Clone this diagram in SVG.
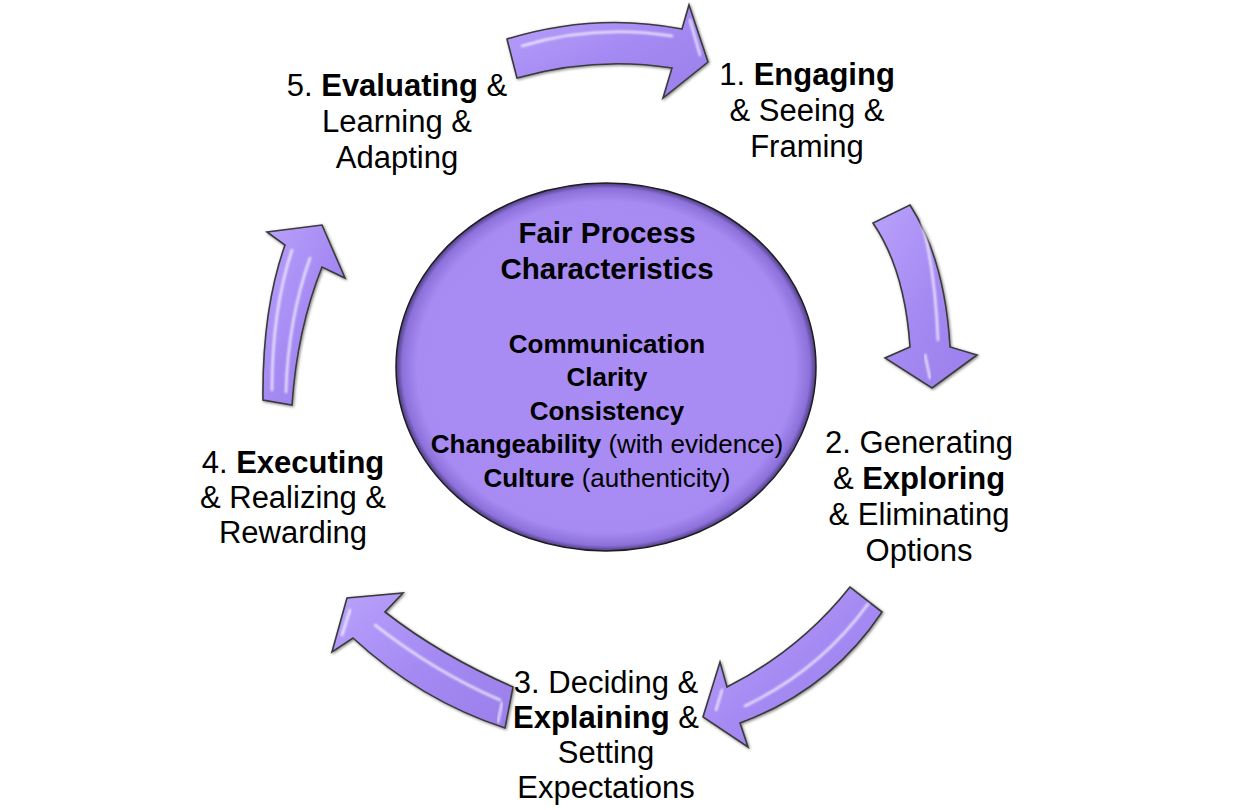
<svg xmlns="http://www.w3.org/2000/svg" width="1235" height="810" viewBox="0 0 1235 810">
<defs>
<radialGradient id="circGrad" cx="0.5" cy="0.5" r="0.5">
<stop offset="0" stop-color="#a98cf4"/>
<stop offset="0.9" stop-color="#a78af2"/>
<stop offset="0.97" stop-color="#8d71da"/>
<stop offset="1" stop-color="#4d3c80"/>
</radialGradient>
<linearGradient id="arrGrad" x1="0" y1="0" x2="1" y2="1">
<stop offset="0" stop-color="#b9a2fb"/>
<stop offset="0.5" stop-color="#a68af3"/>
<stop offset="1" stop-color="#9a7eea"/>
</linearGradient>
<filter id="blur1" x="-20%" y="-20%" width="140%" height="140%">
<feGaussianBlur stdDeviation="1.2"/>
</filter>
<filter id="shadow" x="-10%" y="-10%" width="130%" height="130%">
<feGaussianBlur in="SourceAlpha" stdDeviation="1.5"/>
<feOffset dx="1" dy="1" result="b"/>
<feComponentTransfer><feFuncA type="linear" slope="0.5"/></feComponentTransfer>
<feMerge><feMergeNode/><feMergeNode in="SourceGraphic"/></feMerge>
</filter>
</defs>
<style>
.arrow{fill:url(#arrGrad);stroke:#3a3a3a;stroke-width:1.6;stroke-linejoin:miter;filter:url(#shadow)}
.hl{fill:none;stroke:#ffffff;stroke-width:2.5;stroke-linecap:round;opacity:0.75;filter:url(#blur1)}
.lbl{font-family:"Liberation Sans",Arial,sans-serif;font-size:31px;fill:#000;text-anchor:middle}
.ctr{font-family:"Liberation Sans",Arial,sans-serif;font-size:26px;fill:#000;text-anchor:middle}
.ttl{font-family:"Liberation Sans",Arial,sans-serif;font-size:29.5px;font-weight:bold;fill:#000;text-anchor:middle}
.b{font-weight:bold}
</style>
<rect width="1235" height="810" fill="#ffffff"/>

<g id="center">
<ellipse cx="606" cy="367" rx="210" ry="184" fill="url(#circGrad)" stroke="#1e1e1e" stroke-width="1.5"/>
<text class="ttl" x="607" y="243">Fair Process</text>
<text class="ttl" x="607" y="279">Characteristics</text>
<text class="ctr b" x="607" y="353">Communication</text>
<text class="ctr b" x="607" y="386">Clarity</text>
<text class="ctr b" x="607" y="420">Consistency</text>
<text class="ctr" x="607" y="453"><tspan class="b">Changeability</tspan> (with evidence)</text>
<text class="ctr" x="607" y="487"><tspan class="b">Culture</tspan> (authenticity)</text>
</g>

<g id="connectors">
<g id="arrow-5-1">
<path class="arrow" d="M507,39 Q595,12 682,29 L689,5 L708,62 L663,98 L672,68 Q595,56 517,78 Z"/>
<path class="hl" d="M522,46 Q595,24 672,36"/>
<path class="hl" d="M690,20 L700,55"/>
</g>
<g id="arrow-1-2">
<path class="arrow" d="M873,223 Q905,270 910,347 L885,358 L932,388 L977,355 L950,347 Q945,260 910,205 Z"/>
<path class="hl" d="M922,222 Q935,270 938,340"/>
<path class="hl" d="M925,355 L930,378"/>
</g>
<g id="arrow-2-3">
<path class="arrow" d="M850,587 Q800,650 727,687 L720,662 L703,717 L748,747 L740,723 Q830,690 882,612 Z"/>
<path class="hl" d="M868,604 Q820,670 745,706"/>
<path class="hl" d="M716,710 L722,690"/>
</g>
<g id="arrow-3-4">
<path class="arrow" d="M513,687 Q440,655 385,612 L403,593 L347,598 L332,652 L353,638 Q420,700 505,728 Z"/>
<path class="hl" d="M500,700 Q435,672 375,625"/>
<path class="hl" d="M350,610 L342,635"/>
<path class="hl" d="M502,703 L498,722"/>
</g>
<g id="arrow-4-5">
<path class="arrow" d="M263,400 Q262,310 285,245 L267,232 L322,225 L345,278 L322,267 Q297,330 292,405 Z"/>
<path class="hl" d="M272,390 Q272,310 292,250"/>
<path class="hl" d="M286,392 Q288,320 310,258"/>
</g>
</g>

<g id="node1">
<text class="lbl" x="807" y="85">1. <tspan class="b">Engaging</tspan></text>
<text class="lbl" x="807" y="121">&amp; Seeing &amp;</text>
<text class="lbl" x="807" y="157">Framing</text>
</g>
<g id="node2">
<text class="lbl" x="919" y="453">2. Generating</text>
<text class="lbl" x="919" y="489">&amp; <tspan class="b">Exploring</tspan></text>
<text class="lbl" x="919" y="525">&amp; Eliminating</text>
<text class="lbl" x="919" y="561">Options</text>
</g>
<g id="node3">
<text class="lbl" x="606" y="693">3. Deciding &amp;</text>
<text class="lbl" x="606" y="728"><tspan class="b">Explaining</tspan> &amp;</text>
<text class="lbl" x="606" y="763">Setting</text>
<text class="lbl" x="606" y="798">Expectations</text>
</g>
<g id="node4">
<text class="lbl" x="293" y="473">4. <tspan class="b">Executing</tspan></text>
<text class="lbl" x="293" y="508">&amp; Realizing &amp;</text>
<text class="lbl" x="293" y="543">Rewarding</text>
</g>
<g id="node5">
<text class="lbl" x="397" y="96">5. <tspan class="b">Evaluating</tspan> &amp;</text>
<text class="lbl" x="397" y="132">Learning &amp;</text>
<text class="lbl" x="397" y="168">Adapting</text>
</g>
</svg>
